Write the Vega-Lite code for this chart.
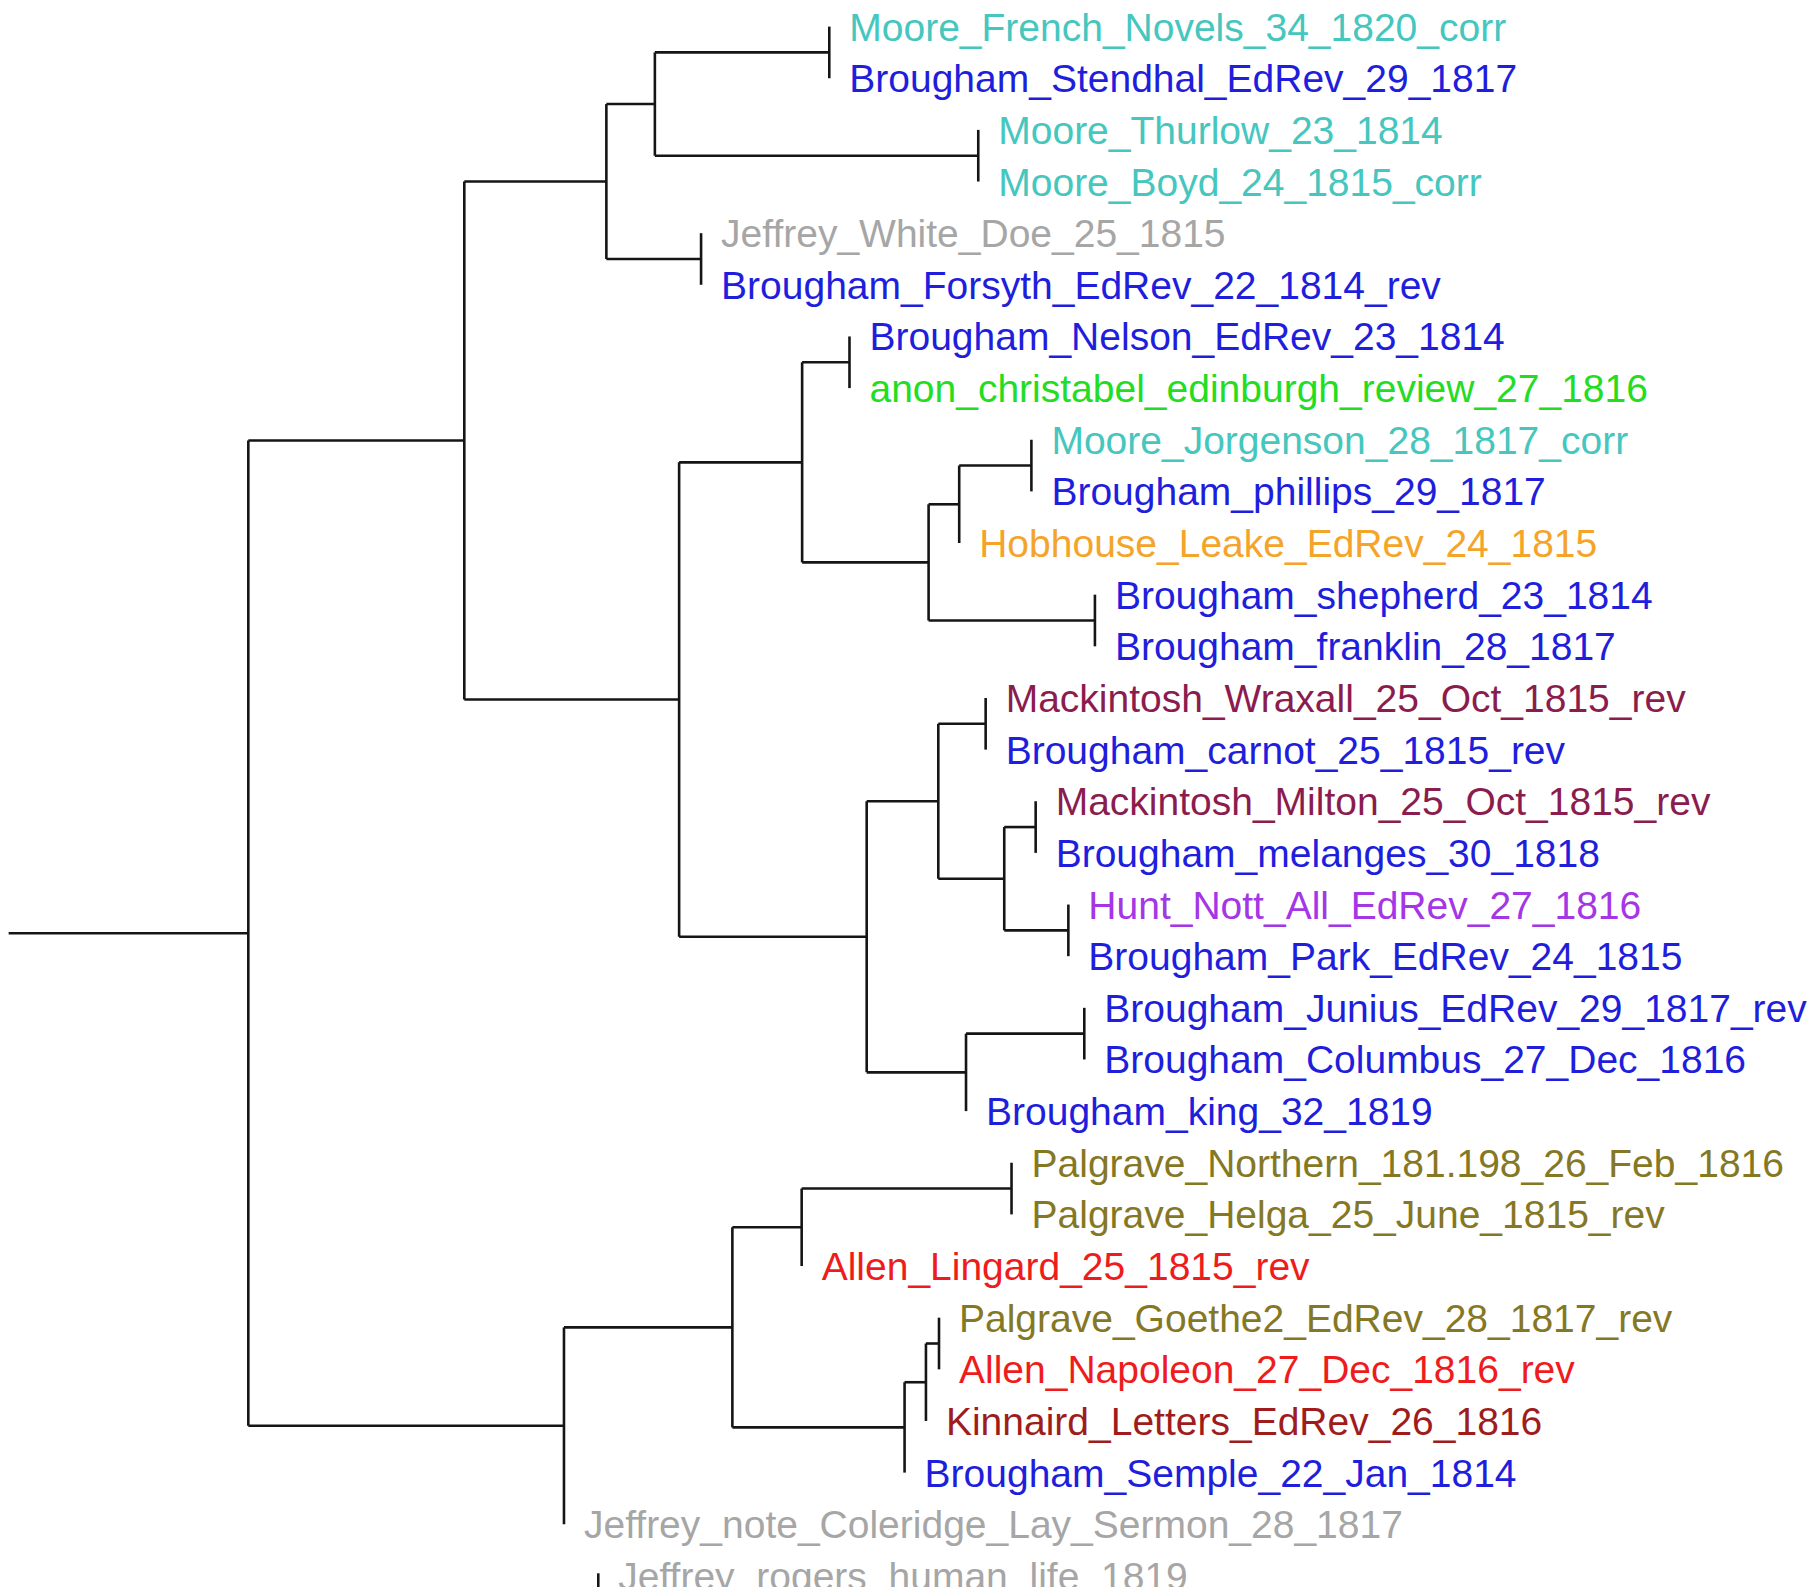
{
  "$schema": "https://vega.github.io/schema/vega-lite/v6.json",
  "width": 1811,
  "height": 1587,
  "padding": 0,
  "autosize": {"type": "none"},
  "background": "white",
  "config": {"view": {"stroke": null}},
  "datasets": {
    "nodes": [
      {"id": "n718", "depth": 718, "lo": 1, "hi": 2, "mid": 1.5, "parent": 567},
      {"id": "n847", "depth": 847, "lo": 3, "hi": 4, "mid": 3.5, "parent": 567},
      {"id": "n567", "depth": 567, "lo": 1.5, "hi": 3.5, "mid": 2.5, "parent": 525},
      {"id": "n607", "depth": 607, "lo": 5, "hi": 6, "mid": 5.5, "parent": 525},
      {"id": "n525", "depth": 525, "lo": 2.5, "hi": 5.5, "mid": 4, "parent": 402},
      {"id": "n736", "depth": 735.5, "lo": 7, "hi": 8, "mid": 7.5, "parent": 694.5},
      {"id": "n893", "depth": 893, "lo": 9, "hi": 10, "mid": 9.5, "parent": 830.5},
      {"id": "n831", "depth": 830.5, "lo": 9.5, "hi": 11, "mid": 10.25, "parent": 804},
      {"id": "n948", "depth": 948, "lo": 12, "hi": 13, "mid": 12.5, "parent": 804},
      {"id": "n804", "depth": 804, "lo": 10.25, "hi": 12.5, "mid": 11.375, "parent": 694.5},
      {"id": "n694", "depth": 694.5, "lo": 7.5, "hi": 11.375, "mid": 9.4375, "parent": 588},
      {"id": "n853", "depth": 853.4, "lo": 14, "hi": 15, "mid": 14.5, "parent": 812.4},
      {"id": "n897", "depth": 896.7, "lo": 16, "hi": 17, "mid": 16.5, "parent": 869.5},
      {"id": "n925", "depth": 925, "lo": 18, "hi": 19, "mid": 18.5, "parent": 869.5},
      {"id": "n870", "depth": 869.5, "lo": 16.5, "hi": 18.5, "mid": 17.5, "parent": 812.4},
      {"id": "n812", "depth": 812.4, "lo": 14.5, "hi": 17.5, "mid": 16, "parent": 750.4},
      {"id": "n939", "depth": 938.8, "lo": 20, "hi": 21, "mid": 20.5, "parent": 836.4},
      {"id": "n836", "depth": 836.4, "lo": 20.5, "hi": 22, "mid": 21.25, "parent": 750.4},
      {"id": "n750", "depth": 750.4, "lo": 16, "hi": 21.25, "mid": 18.625, "parent": 588},
      {"id": "n588", "depth": 588, "lo": 9.4375, "hi": 18.625, "mid": 14.03125, "parent": 402},
      {"id": "n402", "depth": 402, "lo": 4, "hi": 14.03125, "mid": 9.015625, "parent": 215},
      {"id": "n876", "depth": 875.8, "lo": 23, "hi": 24, "mid": 23.5, "parent": 694.1},
      {"id": "n694b", "depth": 694.1, "lo": 23.5, "hi": 25, "mid": 24.25, "parent": 634.1},
      {"id": "n813", "depth": 813, "lo": 26, "hi": 27, "mid": 26.5, "parent": 801.7},
      {"id": "n802", "depth": 801.7, "lo": 26.5, "hi": 28, "mid": 27.25, "parent": 783.2},
      {"id": "n783", "depth": 783.2, "lo": 27.25, "hi": 29, "mid": 28.125, "parent": 634.1},
      {"id": "n634", "depth": 634.1, "lo": 24.25, "hi": 28.125, "mid": 26.1875, "parent": 488.3},
      {"id": "n488", "depth": 488.3, "lo": 26.1875, "hi": 30, "mid": 28.09375, "parent": 215},
      {"id": "n215", "depth": 215, "lo": 9.015625, "hi": 28.09375, "mid": 18.5546875, "parent": 7.5},
      {"id": "n517", "depth": 518, "lo": 30.95, "hi": 33, "mid": 32, "parent": 518}
    ],
    "leaves": [
      {"order": 1, "label": "Moore_French_Novels_34_1820_corr", "author": "Moore", "depth": 718},
      {"order": 2, "label": "Brougham_Stendhal_EdRev_29_1817", "author": "Brougham", "depth": 718},
      {"order": 3, "label": "Moore_Thurlow_23_1814", "author": "Moore", "depth": 847},
      {"order": 4, "label": "Moore_Boyd_24_1815_corr", "author": "Moore", "depth": 847},
      {"order": 5, "label": "Jeffrey_White_Doe_25_1815", "author": "Jeffrey", "depth": 607},
      {"order": 6, "label": "Brougham_Forsyth_EdRev_22_1814_rev", "author": "Brougham", "depth": 607},
      {"order": 7, "label": "Brougham_Nelson_EdRev_23_1814", "author": "Brougham", "depth": 735.5},
      {"order": 8, "label": "anon_christabel_edinburgh_review_27_1816", "author": "anon", "depth": 735.5},
      {"order": 9, "label": "Moore_Jorgenson_28_1817_corr", "author": "Moore", "depth": 893},
      {"order": 10, "label": "Brougham_phillips_29_1817", "author": "Brougham", "depth": 893},
      {"order": 11, "label": "Hobhouse_Leake_EdRev_24_1815", "author": "Hobhouse", "depth": 830.5},
      {"order": 12, "label": "Brougham_shepherd_23_1814", "author": "Brougham", "depth": 948},
      {"order": 13, "label": "Brougham_franklin_28_1817", "author": "Brougham", "depth": 948},
      {"order": 14, "label": "Mackintosh_Wraxall_25_Oct_1815_rev", "author": "Mackintosh", "depth": 853.4},
      {"order": 15, "label": "Brougham_carnot_25_1815_rev", "author": "Brougham", "depth": 853.4},
      {"order": 16, "label": "Mackintosh_Milton_25_Oct_1815_rev", "author": "Mackintosh", "depth": 896.7},
      {"order": 17, "label": "Brougham_melanges_30_1818", "author": "Brougham", "depth": 896.7},
      {"order": 18, "label": "Hunt_Nott_All_EdRev_27_1816", "author": "Hunt", "depth": 925},
      {"order": 19, "label": "Brougham_Park_EdRev_24_1815", "author": "Brougham", "depth": 925},
      {"order": 20, "label": "Brougham_Junius_EdRev_29_1817_rev", "author": "Brougham", "depth": 938.8},
      {"order": 21, "label": "Brougham_Columbus_27_Dec_1816", "author": "Brougham", "depth": 938.8},
      {"order": 22, "label": "Brougham_king_32_1819", "author": "Brougham", "depth": 836.4},
      {"order": 23, "label": "Palgrave_Northern_181.198_26_Feb_1816", "author": "Palgrave", "depth": 875.8},
      {"order": 24, "label": "Palgrave_Helga_25_June_1815_rev", "author": "Palgrave", "depth": 875.8},
      {"order": 25, "label": "Allen_Lingard_25_1815_rev", "author": "Allen", "depth": 694.1},
      {"order": 26, "label": "Palgrave_Goethe2_EdRev_28_1817_rev", "author": "Palgrave", "depth": 813},
      {"order": 27, "label": "Allen_Napoleon_27_Dec_1816_rev", "author": "Allen", "depth": 813},
      {"order": 28, "label": "Kinnaird_Letters_EdRev_26_1816", "author": "Kinnaird", "depth": 801.7},
      {"order": 29, "label": "Brougham_Semple_22_Jan_1814", "author": "Brougham", "depth": 783.2},
      {"order": 30, "label": "Jeffrey_note_Coleridge_Lay_Sermon_28_1817", "author": "Jeffrey", "depth": 488.3},
      {"order": 31, "label": "Jeffrey_rogers_human_life_1819", "author": "Jeffrey", "depth": 518}
    ]
  },
  "layer": [
    {
      "data": {"name": "nodes"},
      "mark": {"type": "rule", "color": "#151515", "strokeWidth": 2.6, "clip": true},
      "encoding": {
        "x": {"field": "depth", "type": "quantitative", "scale": {"domain": [0, 1568], "nice": false, "zero": false}, "axis": null},
        "y": {"field": "lo", "type": "quantitative", "scale": {"domain": [0.485, 31.215], "reverse": true, "nice": false, "zero": false}, "axis": null},
        "y2": {"field": "hi"}
      }
    },
    {
      "data": {"name": "nodes"},
      "mark": {"type": "rule", "color": "#151515", "strokeWidth": 2.6, "clip": true},
      "encoding": {
        "x": {"field": "parent", "type": "quantitative", "scale": {"domain": [0, 1568], "nice": false, "zero": false}, "axis": null},
        "x2": {"field": "depth"},
        "y": {"field": "mid", "type": "quantitative", "scale": {"domain": [0.485, 31.215], "reverse": true, "nice": false, "zero": false}, "axis": null}
      }
    },
    {
      "data": {"name": "leaves"},
      "mark": {"type": "text", "align": "left", "baseline": "middle", "dx": 20, "dy": 2, "fontSize": 39, "font": "Liberation Sans", "clip": true},
      "encoding": {
        "x": {"field": "depth", "type": "quantitative", "scale": {"domain": [0, 1568], "nice": false, "zero": false}, "axis": null},
        "y": {"field": "order", "type": "quantitative", "scale": {"domain": [0.485, 31.215], "reverse": true, "nice": false, "zero": false}, "axis": null},
        "text": {"field": "label"},
        "color": {
          "field": "author",
          "type": "nominal",
          "legend": null,
          "scale": {
            "domain": ["Moore", "Brougham", "Jeffrey", "anon", "Hobhouse", "Mackintosh", "Hunt", "Palgrave", "Allen", "Kinnaird"],
            "range": ["#45C6BE", "#1E1EDC", "#A6A6A6", "#22DD22", "#F5A42A", "#8B1C4E", "#A436E6", "#857824", "#EE1C1C", "#A01C1C"]
          }
        }
      }
    }
  ]
}
